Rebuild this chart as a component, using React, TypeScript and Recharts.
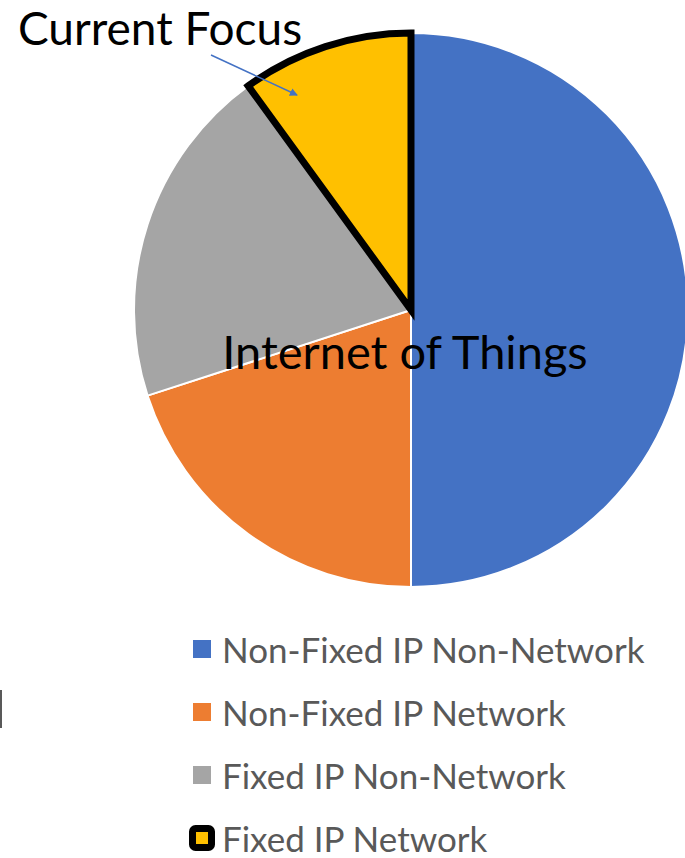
import { PieChart, Pie, Cell, Legend } from 'recharts'

const categories = [
  'Non-Fixed IP Non-Network',
  'Non-Fixed IP Network',
  'Fixed IP Non-Network',
  'Fixed IP Network',
]
const shares = [50, 20, 20, 10]
const colors = ['#4472C4', '#ED7D31', '#A5A5A5', '#FFC000']
const focusIndex = 3

const data = categories.map((name, i) => ({ name, value: shares[i] }))

const FONT = 'Lato, "Open Sans", sans-serif'

function LegendList() {
  return (
    <div style={{ fontFamily: FONT, fontSize: 35, color: '#595959' }}>
      {categories.map((name, i) => (
        <div
          key={name}
          style={{ display: 'flex', alignItems: 'center', height: 63, whiteSpace: 'nowrap' }}
        >
          <svg width={32} height={32} style={{ marginRight: 4 }}>
            {i === focusIndex ? (
              <rect x={6.5} y={6.5} width={19} height={19} rx={3} fill={colors[i]} stroke="#000" strokeWidth={7} />
            ) : (
              <rect x={7} y={7} width={18} height={18} fill={colors[i]} />
            )}
          </svg>
          <span>{name}</span>
        </div>
      ))}
    </div>
  )
}

export default function App() {
  return (
    <div style={{ position: 'absolute', left: 0, top: 0, width: 685, height: 858, background: '#fff', overflow: 'hidden' }}>
      <PieChart width={685} height={858}>
        <Pie
          data={data}
          dataKey="value"
          nameKey="name"
          cx={406}
          cy={305}
          outerRadius={277}
          startAngle={90}
          endAngle={-270}
          isAnimationActive={false}
        >
          {data.map((d, i) => (
            <Cell
              key={d.name}
              fill={colors[i]}
              stroke={i === focusIndex ? '#000' : '#fff'}
              strokeWidth={i === focusIndex ? 7 : 2}
            />
          ))}
        </Pie>
        <Legend
          layout="vertical"
          content={() => <LegendList />}
          wrapperStyle={{ left: 186, top: 617, width: 500 }}
        />
      </PieChart>
      <svg width={685} height={858} style={{ position: 'absolute', left: 0, top: 0, pointerEvents: 'none' }}>
        <defs>
          <marker id="arr" markerWidth={8} markerHeight={8} refX={7} refY={4} orient="auto" markerUnits="userSpaceOnUse">
            <path d="M0,0 L8,4 L0,8 Z" fill="#4472C4" />
          </marker>
        </defs>
        <text x={18} y={45} fontFamily={FONT} fontSize={46} fill="#000">
          Current Focus
        </text>
        <line x1={211} y1={55} x2={297} y2={95} stroke="#4472C4" strokeWidth={1.5} markerEnd="url(#arr)" />
        <text x={405} y={369} textAnchor="middle" fontFamily={FONT} fontSize={47} fill="#000">
          Internet of Things
        </text>
        <line x1={1} y1={690} x2={1} y2={728} stroke="#595959" strokeWidth={2} />
      </svg>
    </div>
  )
}
